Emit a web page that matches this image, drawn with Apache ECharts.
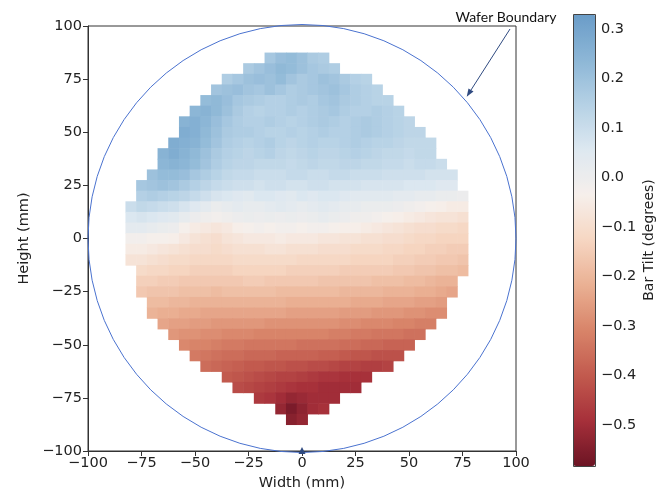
<!DOCTYPE html>
<html>
<head>
<meta charset="utf-8">
<title>Bar tilt map</title>
<script src="https://cdn.jsdelivr.net/npm/echarts@6/dist/echarts.min.js"></script>
<style>
  html, body { margin: 0; padding: 0; background: #fff; }
  #chart { width: 668px; height: 496px; }
</style>
</head>
<body>
<div id="chart"></div>
<script>
// tilt map, one row per height (mm), cells every 5 mm starting at rowX0
const cell = 5
const rowY = [85, 80, 75, 70, 65, 60, 55, 50, 45, 40, 35, 30, 25, 20, 15, 10, 5, 0,
  -5, -10, -15, -20, -25, -30, -35, -40, -45, -50, -55, -60, -65, -70, -75, -80, -85]
const rowX0 = [-15, -25, -35, -40, -45, -50, -55, -55, -60, -65, -65, -70, -75, -75, -80, -80, -80, -80,
  -80, -80, -75, -75, -75, -70, -70, -65, -60, -55, -50, -45, -35, -30, -20, -10, -5]
const tilt = [
  [.18, .21, .22, .2, .17, .16],
  [.17, .19, .21, .23, .22, .2, .18, .17, .16],
  [.16, .18, .2, .21, .2, .22, .19, .17, .18, .2, .19, .17, .15, .14],
  [.19, .2, .21, .19, .18, .2, .18, .16, .17, .18, .19, .2, .18, .16, .15, .14],
  [.22, .23, .21, .18, .17, .16, .15, .15, .16, .17, .16, .18, .19, .17, .16, .15, .14, .14],
  [.24, .25, .23, .2, .17, .15, .14, .15, .15, .16, .15, .16, .17, .18, .16, .15, .15, .16, .15, .14],
  [.25, .26, .24, .21, .18, .16, .15, .15, .16, .15, .14, .15, .16, .17, .16, .15, .16, .17, .16, .15, .14, .13],
  [.27, .26, .23, .2, .17, .16, .16, .15, .14, .14, .15, .14, .15, .16, .15, .15, .16, .17, .16, .15, .14, .13, .13],
  [.27, .26, .25, .22, .19, .16, .15, .14, .15, .16, .14, .13, .14, .15, .14, .14, .15, .16, .15, .14, .14, .13, .12, .12, .12],
  [.25, .27, .25, .23, .2, .17, .15, .14, .13, .14, .15, .13, .12, .13, .14, .13, .13, .14, .15, .14, .13, .12, .12, .11, .12, .12],
  [.24, .25, .24, .22, .19, .16, .14, .13, .13, .12, .12, .12, .11, .12, .13, .12, .12, .13, .13, .12, .12, .11, .11, .1, .11, .11, .1],
  [.2, .22, .22, .21, .18, .16, .14, .12, .11, .11, .1, .1, .1, .11, .11, .1, .1, .11, .11, .1, .1, .1, .09, .09, .09, .09, .08, .08, .08],
  [.18, .19, .2, .19, .17, .15, .13, .11, .1, .09, .09, .08, .09, .09, .08, .08, .09, .09, .08, .08, .08, .07, .07, .07, .07, .06, .06, .06, .05, .05],
  [.15, .16, .15, .14, .13, .11, .09, .07, .06, .05, .04, .06, .06, .05, .04, .06, .05, .06, .06, .05, .04, .04, .04, .04, .03, .03, .02, .02, .01, .01, 0],
  [.1, .12, .11, .1, .09, .07, .05, .03, .01, .02, .03, .02, .02, .03, .04, .03, .02, .03, .04, .03, .02, .02, .01, .01, .01, 0, -.01, -.02, -.03, -.04, -.05, -.05],
  [.06, .07, .06, .05, .04, .02, 0, -.01, -.02, -.01, 0, .01, 0, .01, 0, .01, 0, .01, .02, .01, 0, -.01, -.01, -.02, -.03, -.04, -.05, -.06, -.07, -.08, -.08, -.09],
  [.03, .03, .02, .01, 0, -.03, -.05, -.06, -.07, -.06, -.04, -.03, -.02, -.03, -.02, -.02, -.03, -.02, -.02, -.03, -.04, -.04, -.05, -.06, -.07, -.08, -.09, -.1, -.1, -.11, -.11, -.12],
  [-.02, -.02, -.03, -.03, -.04, -.06, -.08, -.09, -.1, -.08, -.07, -.06, -.06, -.06, -.05, -.06, -.06, -.06, -.07, -.07, -.08, -.08, -.09, -.09, -.1, -.1, -.11, -.12, -.12, -.13, -.13, -.13],
  [-.05, -.05, -.06, -.07, -.08, -.09, -.1, -.1, -.11, -.1, -.09, -.09, -.09, -.08, -.08, -.09, -.09, -.09, -.1, -.1, -.1, -.11, -.11, -.11, -.12, -.12, -.13, -.13, -.14, -.14, -.15, -.15],
  [-.08, -.08, -.09, -.1, -.11, -.11, -.12, -.12, -.12, -.12, -.11, -.11, -.11, -.11, -.11, -.11, -.12, -.12, -.12, -.12, -.12, -.13, -.13, -.13, -.13, -.14, -.14, -.15, -.15, -.16, -.16, -.17],
  [-.11, -.12, -.12, -.13, -.13, -.14, -.14, -.14, -.14, -.13, -.13, -.13, -.13, -.13, -.14, -.14, -.14, -.14, -.14, -.15, -.15, -.15, -.15, -.15, -.16, -.16, -.17, -.17, -.18, -.18, -.19],
  [-.14, -.14, -.15, -.15, -.16, -.16, -.16, -.16, -.16, -.16, -.15, -.15, -.16, -.16, -.16, -.16, -.16, -.17, -.17, -.17, -.17, -.17, -.18, -.18, -.18, -.19, -.19, -.2, -.21, -.21],
  [-.16, -.17, -.17, -.17, -.18, -.18, -.18, -.19, -.18, -.18, -.18, -.18, -.18, -.19, -.19, -.19, -.19, -.19, -.19, -.2, -.2, -.2, -.2, -.21, -.21, -.21, -.22, -.22, -.23, -.24],
  [-.19, -.19, -.2, -.2, -.21, -.21, -.21, -.21, -.21, -.21, -.21, -.21, -.21, -.22, -.22, -.22, -.22, -.22, -.22, -.23, -.23, -.23, -.24, -.24, -.24, -.25, -.25, -.26],
  [-.21, -.22, -.22, -.23, -.23, -.24, -.24, -.24, -.24, -.24, -.24, -.24, -.24, -.25, -.25, -.25, -.25, -.25, -.26, -.26, -.26, -.27, -.27, -.27, -.28, -.28, -.29, -.29],
  [-.24, -.25, -.25, -.26, -.26, -.27, -.27, -.27, -.27, -.27, -.28, -.28, -.28, -.28, -.28, -.28, -.28, -.29, -.29, -.3, -.3, -.3, -.31, -.31, -.32, -.32],
  [-.27, -.28, -.28, -.29, -.29, -.3, -.3, -.3, -.31, -.31, -.31, -.31, -.31, -.31, -.31, -.32, -.32, -.33, -.33, -.34, -.34, -.34, -.35, -.35],
  [-.3, -.31, -.31, -.32, -.33, -.33, -.34, -.34, -.34, -.34, -.34, -.35, -.35, -.35, -.35, -.36, -.36, -.37, -.37, -.38, -.38, -.38],
  [-.33, -.34, -.35, -.36, -.36, -.37, -.37, -.37, -.38, -.38, -.38, -.38, -.39, -.39, -.4, -.41, -.41, -.42, -.42, -.42],
  [-.36, -.37, -.38, -.39, -.4, -.4, -.41, -.41, -.42, -.42, -.43, -.43, -.44, -.45, -.45, -.46, -.46, -.45],
  [-.4, -.41, -.42, -.43, -.44, -.45, -.45, -.46, -.47, -.48, -.48, -.49, -.49, -.49],
  [-.43, -.44, -.45, -.46, -.47, -.48, -.49, -.49, -.5, -.5, -.5, -.5],
  [-.47, -.48, -.5, -.52, -.51, -.5, -.5, -.5],
  [-.52, -.56, -.53, -.5, -.49],
  [-.54, -.52]
]

// wafer outline (centre x, centre y, radius in mm)
const wafer = [[0, 0, 100]]

// colour scale
const tiltMin = -0.583
const tiltMax = 0.33
const barTicks = [-0.5, -0.4, -0.3, -0.2, -0.1, 0, 0.1, 0.2, 0.3]
const rdBu = ['#6c1424', '#a6303a', '#c25a4e', '#d88469', '#eab093', '#f6d6c2',
  '#f6efeb', '#dde8f0', '#b5d1e5', '#8cb6d6', '#6a9cc8']

// flatten grid into [x, y, value]
const cells = []
rowY.forEach((y, r) => {
  tilt[r].forEach((v, i) => {
    cells.push([rowX0[r] + i * cell, y, v])
  })
})

const font = 'DejaVu Sans'
const minus = v => (v < 0 ? '\u2212' : '') + Math.abs(v)
const chart = echarts.init(document.getElementById('chart'))

chart.setOption({
  animation: false,
  textStyle: { fontFamily: font },
  grid: [
    { left: 88, top: 26, width: 428, height: 428, show: true, borderColor: '#333', borderWidth: 1 },
    { left: 573, top: 14, width: 22, height: 452 }
  ],
  xAxis: [
    {
      type: 'value', min: -100, max: 100, interval: 25,
      name: 'Width (mm)', nameLocation: 'middle', nameGap: 25,
      nameTextStyle: { fontSize: 14.5, color: '#222', fontFamily: font },
      axisLine: { onZero: false, lineStyle: { color: '#333' } },
      axisTick: { length: 5, lineStyle: { color: '#333' } },
      axisLabel: { fontSize: 14.5, color: '#222', margin: 5, formatter: minus },
      splitLine: { show: false }
    },
    { gridIndex: 1, type: 'value', min: 0, max: 1, show: false }
  ],
  yAxis: [
    {
      type: 'value', min: -100, max: 100, interval: 25,
      name: 'Height (mm)', nameLocation: 'middle', nameGap: 51,
      nameTextStyle: { fontSize: 14.5, color: '#222', fontFamily: font },
      axisLine: { onZero: false, lineStyle: { color: '#333' } },
      axisTick: { length: 5, lineStyle: { color: '#333' } },
      axisLabel: { fontSize: 14.5, color: '#222', margin: 6, formatter: minus },
      splitLine: { show: false }
    },
    {
      gridIndex: 1, type: 'value', position: 'right', min: tiltMin, max: tiltMax,
      name: 'Bar Tilt (degrees)', nameLocation: 'middle', nameGap: 47, nameRotate: 90,
      nameTextStyle: { fontSize: 14, color: '#222', fontFamily: font },
      axisLine: { show: false },
      axisTick: { show: true, length: 4, customValues: barTicks, lineStyle: { color: '#333' } },
      axisLabel: {
        fontSize: 14.5, color: '#222', margin: 6, customValues: barTicks,
        formatter: v => (v < 0 ? '\u2212' : '') + Math.abs(v).toFixed(1)
      },
      splitLine: { show: false }
    }
  ],
  visualMap: {
    type: 'continuous', min: tiltMin, max: tiltMax, dimension: 2, seriesIndex: 0,
    left: 573, top: 14, itemWidth: 22, itemHeight: 452, padding: 0,
    calculable: false, hoverLink: false,
    inRange: { color: rdBu }
  },
  series: [
    {
      type: 'custom',
      data: cells,
      renderItem: (params, api) => {
        const p = api.coord([api.value(0) - cell / 2, api.value(1) + cell / 2])
        const s = api.size([cell, cell])
        return {
          type: 'rect',
          shape: { x: p[0], y: p[1], width: s[0] + 0.6, height: s[1] + 0.6 },
          style: { fill: api.visual('color') }
        }
      }
    },
    {
      type: 'custom',
      data: wafer,
      renderItem: (params, api) => {
        const c = api.coord([api.value(0), api.value(1)])
        const r = api.size([api.value(2), 0])[0]
        return {
          type: 'circle',
          shape: { cx: c[0], cy: c[1], r: r },
          style: { fill: null, stroke: '#4a72cf', lineWidth: 1 }
        }
      }
    }
  ],
  graphic: [
    {
      type: 'rect', z: 100,
      shape: { x: 573.5, y: 14.5, width: 22, height: 452 },
      style: { fill: null, stroke: '#444', lineWidth: 1 }
    },
    {
      type: 'text', z: 100, x: 506, y: 17,
      style: { text: 'Wafer Boundary', fontFamily: 'Lato', fontSize: 14, fill: '#111', align: 'center', verticalAlign: 'middle' }
    },
    {
      type: 'line', z: 100,
      shape: { x1: 510, y1: 29, x2: 471, y2: 90 },
      style: { stroke: '#2f4a80', lineWidth: 1 }
    },
    {
      type: 'polygon', z: 100,
      shape: { points: [[466.7, 96.7], [473.5, 91.6], [468.5, 88.4]] },
      style: { fill: '#2f4a80' }
    },
    {
      type: 'polygon', z: 100,
      shape: { points: [[302, 447], [305.5, 454], [298.5, 454]] },
      style: { fill: '#2f4a80' }
    }
  ]
})
</script>
</body>
</html>
